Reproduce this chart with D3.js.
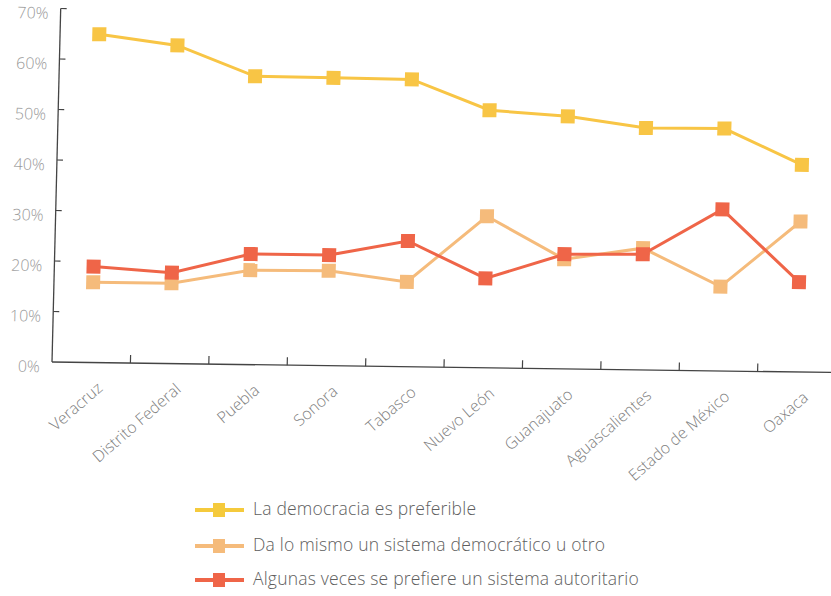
<!DOCTYPE html>
<html>
<head>
<meta charset="utf-8">
<script src="https://cdn.jsdelivr.net/npm/d3@7"></script>
<style>
  body { margin: 0; background: #fff; }
  svg text { font-family: "Open Sans", Lato, sans-serif; font-weight: 300; }
</style>
</head>
<body>
<div id="chart"></div>
<script>
const width = 831;
const height = 596;

// estados
const states = ["Veracruz", "Distrito Federal", "Puebla", "Sonora", "Tabasco",
   "Nuevo León", "Guanajuato", "Aguascalientes", "Estado de México", "Oaxaca"];

// porcentajes
const democracia = [65, 63, 57.1, 57.0, 56.9, 51, 50, 47.9, 48, 41];
const daLoMismo  = [15.9, 15.9, 18.7, 18.8, 16.8, 30, 21.7, 24.1, 16.7, 29.8];
const autoritario = [19, 18, 21.9, 21.9, 24.9, 17.7, 22.7, 22.9, 32, 17.8];

const yTicks = [0, 10, 20, 30, 40, 50, 60, 70];

const seriesNames = ["La democracia es preferible",
   "Da lo mismo un sistema democrático u otro",
   "Algunas veces se prefiere un sistema autoritario"];
const seriesColors = ["#f8c545", "#f5bb7b", "#ef6548"];
const legendColors = ["#f5ca3c", "#f5bb7b", "#ef6548"];

const origin = {x: 52, y: 362};

const svg = d3.select("#chart").append("svg")
   .attr("width", width)
   .attr("height", height);

// the scanned chart is slightly skewed, mimic that
const g = svg.append("g")
   .attr("transform", `translate(${origin.x},${origin.y}) matrix(1,0.0134,-0.0246,1,0,0) translate(${-origin.x},${-origin.y})`);

const x = d3.scaleBand()
   .domain(states)
   .range([origin.x, origin.x + 784]);

const y = d3.scaleLinear()
   .domain([0, 70])
   .range([origin.y, origin.y - 353.5]);

const cx = d => x(d) + x.bandwidth() / 2;

// y axis
g.append("line")
   .attr("x1", origin.x).attr("x2", origin.x)
   .attr("y1", y(70)).attr("y2", origin.y)
   .attr("stroke", "#444").attr("stroke-width", 1.3);

g.selectAll("line.ytick")
   .data(yTicks.slice(1))
   .enter().append("line")
   .attr("class", "ytick")
   .attr("x1", origin.x).attr("x2", origin.x + 6)
   .attr("y1", d => y(d)).attr("y2", d => y(d))
   .attr("stroke", "#444").attr("stroke-width", 1.2);

g.selectAll("text.ylabel")
   .data(yTicks)
   .enter().append("text")
   .attr("class", "ylabel")
   .attr("x", 40)
   .attr("y", d => y(d) + 6)
   .attr("text-anchor", "end")
   .attr("dominant-baseline", "middle")
   .attr("font-size", 16)
   .attr("fill", "#999")
   .text(d => d + "%");

// x axis
g.append("line")
   .attr("x1", origin.x).attr("x2", width + 10)
   .attr("y1", origin.y).attr("y2", origin.y)
   .attr("stroke", "#444").attr("stroke-width", 1.3);

g.selectAll("line.xtick")
   .data(states.slice(1))
   .enter().append("line")
   .attr("class", "xtick")
   .attr("x1", d => x(d)).attr("x2", d => x(d))
   .attr("y1", origin.y).attr("y2", origin.y - 8)
   .attr("stroke", "#444").attr("stroke-width", 1.2);

g.selectAll("text.xlabel")
   .data(states)
   .enter().append("text")
   .attr("class", "xlabel")
   .attr("transform", d => `translate(${cx(d) + 13},389) rotate(-42)`)
   .attr("text-anchor", "end")
   .attr("font-size", 16)
   .attr("fill", "#808080")
   .text(d => d);

// series
const allSeries = [democracia, daLoMismo, autoritario];
const line = d3.line()
   .x((d, i) => cx(states[i]))
   .y(d => y(d));

const ms = 14;
allSeries.forEach((values, k) => {
   g.append("path")
      .datum(values)
      .attr("fill", "none")
      .attr("stroke", seriesColors[k])
      .attr("stroke-width", 3)
      .attr("d", line);
   g.selectAll("rect.m" + k)
      .data(values)
      .enter().append("rect")
      .attr("class", "m" + k)
      .attr("x", (d, i) => cx(states[i]) - ms / 2)
      .attr("y", d => y(d) - ms / 2)
      .attr("width", ms).attr("height", ms)
      .attr("fill", seriesColors[k]);
});

// legend
const legend = svg.append("g");
const legendY = [510, 546, 580];
seriesNames.forEach((name, k) => {
   legend.append("line")
      .attr("x1", 195).attr("x2", 244)
      .attr("y1", legendY[k]).attr("y2", legendY[k])
      .attr("stroke", legendColors[k]).attr("stroke-width", 4);
   legend.append("rect")
      .attr("x", 213).attr("y", legendY[k] - 7)
      .attr("width", 12).attr("height", 14)
      .attr("fill", legendColors[k]);
   legend.append("text")
      .attr("x", 253).attr("y", legendY[k])
      .attr("dominant-baseline", "middle")
      .attr("font-size", 17.5)
      .attr("letter-spacing", 0.2)
      .attr("fill", "#5e5e5e")
      .text(name);
});
</script>
</body>
</html>
